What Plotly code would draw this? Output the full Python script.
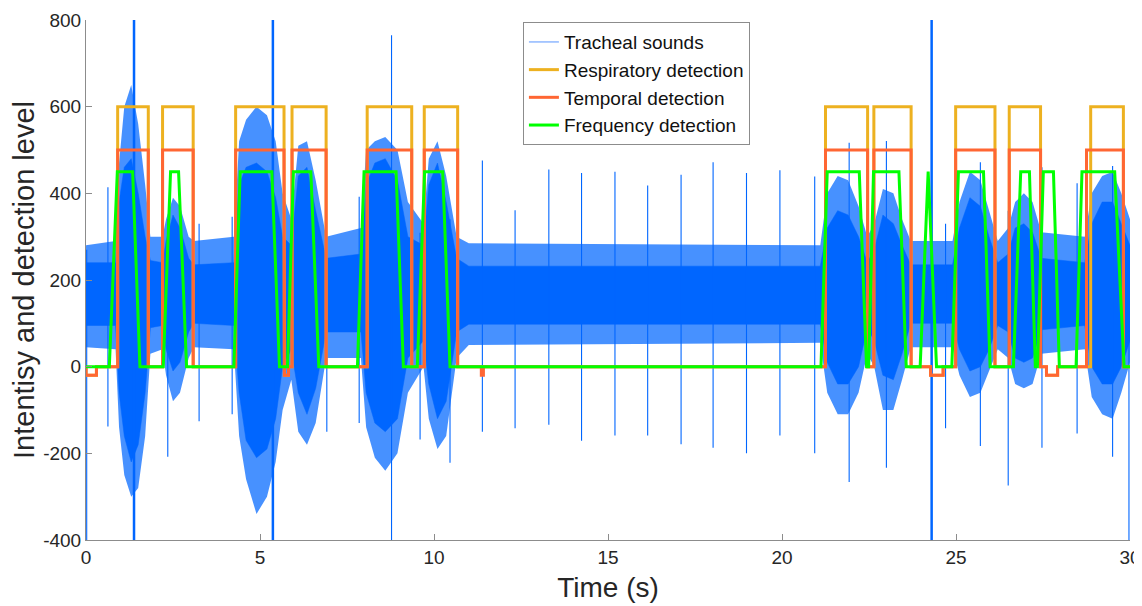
import plotly.graph_objects as go

# ---------------- data ----------------
# Tracheal sound envelope (time s, dense-core upper/lower, frayed outer upper/lower)
env_t = [0, 0.85, 0.95, 1.1, 1.3, 1.5, 1.7, 1.85, 2.2, 2.3, 2.5, 2.7, 2.95, 3.1,
         4.25, 4.4, 4.6, 4.9, 5.2, 5.45, 5.65, 5.9, 6.1, 6.35, 6.6, 6.9, 7.9, 8.05,
         8.3, 8.6, 8.95, 9.25, 9.7, 9.85, 10.1, 10.35, 10.65, 11.0, 21.1, 21.3, 21.6,
         21.9, 22.2, 22.45, 22.65, 22.9, 23.2, 23.45, 23.7, 24.9, 25.1, 25.4, 25.7,
         25.95, 26.2, 26.5, 26.7, 26.95, 27.2, 27.45, 28.7, 28.9, 29.2, 29.5, 29.75, 30]
core_hi = [240, 240, 380, 460, 480, 400, 300, 245, 240, 290, 350, 320, 250, 235,
           240, 420, 460, 470, 450, 390, 300, 280, 440, 460, 360, 250, 260, 420,
           470, 480, 430, 300, 280, 420, 470, 380, 250, 232, 232, 320, 360,
           350, 300, 240, 270, 350, 330, 280, 235, 235, 320, 390, 370,
           300, 240, 260, 320, 330, 310, 250, 240, 330, 380, 380, 330, 280]
core_lo = [95, 95, -60, -160, -220, -180, -60, 90, 95, 40, -10, 10, 80, 100,
           95, -60, -170, -210, -190, -120, 0, 40, -60, -110, -50, 80, 80, -60,
           -130, -150, -120, 20, 60, -40, -120, -80, 80, 98, 98, 10, -40,
           -40, 0, 90, 60, -20, -30, 30, 100, 100, 40, -10, 0,
           40, 95, 80, 20, 10, 20, 85, 95, 0, -40, -40, 0, 60]
outer_hi = [280, 290, 470, 600, 650, 560, 420, 300, 300, 340, 390, 370, 300, 290,
            300, 520, 570, 600, 580, 520, 400, 340, 510, 520, 430, 300, 320, 500,
            520, 530, 500, 380, 330, 480, 520, 440, 300, 285, 280, 400, 440,
            430, 370, 300, 330, 410, 400, 340, 290, 290, 380, 450, 430,
            360, 290, 320, 380, 400, 380, 310, 300, 400, 440, 450, 400, 340]
outer_lo = [45, 40, -140, -250, -300, -280, -160, 30, 40, -20, -80, -60, 20, 45,
            40, -160, -260, -340, -300, -220, -100, -30, -150, -180, -130, 20, 20, -140,
            -210, -240, -200, -60, 0, -120, -190, -160, 20, 50, 55, -60, -110,
            -110, -60, 30, 0, -100, -100, -30, 45, 45, -20, -70, -60,
            -10, 40, 20, -40, -50, -40, 30, 40, -70, -110, -120, -60, 10]

# Isolated spikes of the tracheal signal (time, top, bottom)
spike_t = [0.02, 0.63, 2.35, 3.25, 4.2, 6.92, 7.85, 8.78, 9.6, 10.46, 11.39, 12.33,
           13.30, 14.24, 15.20, 16.14, 17.10, 18.02, 18.98, 19.94, 20.94, 21.93,
           23.0, 24.7, 25.7, 26.5, 27.47, 28.48, 29.5, 29.97]
spike_top = [270, 414, 340, 330, 346, 300, 392, 765, 309, 340, 476, 361,
             455, 447, 450, 418, 443, 472, 447, 453, 439, 517,
             521, 330, 472, 360, 460, 423, 463, 280]
spike_bot = [-400, -138, -208, -126, -110, -150, -130, -400, -168, -222, -150, -142,
             -134, -171, -159, -159, -179, -187, -200, -159, -200, -266,
             -233, -142, -183, -274, -187, -154, -208, -400]

# Large artefacts crossing the whole range
big_t = [1.38, 5.37, 24.3]
big_top = [830, 830, 830]
big_bot = [-430, -430, -430]

# Detection intervals
resp_on = [(0.91, 1.79), (2.20, 3.08), (4.30, 5.69), (5.92, 6.90), (8.08, 9.36),
           (9.72, 10.68), (21.25, 22.46), (22.64, 23.71), (24.99, 26.12),
           (26.53, 27.43), (28.87, 29.81)]
resp_dips = [(0.0, 0.3), (5.70, 5.82), (24.27, 24.63), (27.6, 27.92)]
resp_level = 600
temp_on = [(0.91, 1.79), (2.20, 3.08), (4.30, 5.69), (5.92, 6.90), (8.08, 9.36),
           (9.72, 10.68), (21.25, 22.46), (22.64, 23.71), (24.99, 26.12),
           (26.53, 27.43), (28.75, 29.81)]
temp_dips = [(0.0, 0.3), (5.70, 5.82), (11.36, 11.42), (24.27, 24.63), (27.6, 27.92)]
temp_level = 500
dip_level = -20

freq_t = [0, 0.67, 0.9, 1.34, 1.55, 2.22, 2.43, 2.66, 2.89, 4.25, 4.43, 5.34, 5.56,
          5.79, 5.96, 6.46, 6.69, 7.80, 7.99, 8.91, 9.12, 9.52, 9.73, 10.25, 10.46,
          21.12, 21.30, 22.22, 22.43, 22.49, 22.63, 23.36, 23.57, 23.97, 24.20, 24.44,
          24.88, 25.07, 25.79, 25.98, 26.65, 26.86, 27.11, 27.28, 27.34, 27.51, 27.80,
          27.97, 28.45, 28.62, 29.56, 29.83, 30]
freq_y = [0, 0, 450, 450, 0, 0, 450, 450, 0, 0, 450, 450, 0,
          0, 450, 450, 0, 0, 450, 450, 0, 0, 450, 450, 0,
          0, 450, 450, 0, 0, 450, 450, 0, 0, 450, 0,
          0, 450, 450, 0, 0, 450, 450, 0, 0, 450, 450,
          0, 0, 450, 450, 0, 0]

x_ticks = [0, 5, 10, 15, 20, 25, 30]
y_ticks = [-400, -200, 0, 200, 400, 600, 800]


def step_series(on, dips, level, t_end=30.0):
    events = []
    for a, b in on:
        events.append((a, b, level))
    for a, b in dips:
        events.append((a, b, dip_level))
    events.sort()
    xs, ys = [], []
    cur = 0.0
    for a, b, lv in events:
        if a > cur or not xs:
            xs += [cur, a]
            ys += [0, 0]
        xs += [a, b]
        ys += [lv, lv]
        cur = b
    xs += [cur, t_end]
    ys += [0, 0]
    return xs, ys


def segs(ts, tops, bots):
    xs, ys = [], []
    for t, a, b in zip(ts, tops, bots):
        xs += [t, t, None]
        ys += [a, b, None]
    return xs, ys


BLUE = "#0066FF"
FONT = "Liberation Sans, Arial, sans-serif"
fig = go.Figure()

fig.add_trace(go.Scatter(x=env_t + env_t[::-1], y=outer_hi + outer_lo[::-1],
                         fill="toself", fillcolor="rgba(0,102,255,0.72)",
                         line=dict(width=0), mode="lines", showlegend=False,
                         hoverinfo="skip"))
fig.add_trace(go.Scatter(x=env_t + env_t[::-1], y=core_hi + core_lo[::-1],
                         fill="toself", fillcolor=BLUE,
                         line=dict(width=0.5, color=BLUE), mode="lines",
                         showlegend=False, hoverinfo="skip"))
sx, sy = segs(spike_t, spike_top, spike_bot)
fig.add_trace(go.Scatter(x=sx, y=sy, mode="lines", showlegend=False,
                         line=dict(color=BLUE, width=1.1)))
bx, by = segs(big_t, big_top, big_bot)
fig.add_trace(go.Scatter(x=bx, y=by, mode="lines", showlegend=False,
                         line=dict(color=BLUE, width=2.5)))
# legend entry for the signal (thin light line like the original)
fig.add_trace(go.Scatter(x=[None], y=[None], mode="lines", name="Tracheal sounds",
                         line=dict(color="#8fb8ff", width=1.5)))

rx, ry = step_series(resp_on, resp_dips, resp_level)
fig.add_trace(go.Scatter(x=rx, y=ry, mode="lines", name="Respiratory detection",
                         line=dict(color="#EDB120", width=3)))
tx, ty = step_series(temp_on, temp_dips, temp_level)
fig.add_trace(go.Scatter(x=tx, y=ty, mode="lines", name="Temporal detection",
                         line=dict(color="#FF6633", width=3)))
fig.add_trace(go.Scatter(x=freq_t, y=freq_y, mode="lines", name="Frequency detection",
                         line=dict(color="#00FF00", width=3)))

# the page body adds an 8px margin, so the figure is sized to the remaining area
fig.update_layout(
    width=1134, height=598,
    margin=dict(l=78, r=12, t=12, b=66),
    paper_bgcolor="white", plot_bgcolor="white",
    font=dict(family=FONT, size=19, color="#262626"),
    showlegend=True,
    legend=dict(x=0.4185, y=0.996, xanchor="left", yanchor="top",
                bgcolor="white", bordercolor="#8c8c8c", borderwidth=1,
                font=dict(family=FONT, size=19, color="#111111"),
                traceorder="normal", itemwidth=30),
    xaxis=dict(range=[0, 30], tickvals=x_ticks, ticktext=[str(v) for v in x_ticks],
               ticks="inside", ticklen=6,
               tickcolor="#8c8c8c", showline=True, linecolor="#8c8c8c", linewidth=1,
               showgrid=False, zeroline=False, mirror=False, automargin=False,
               tickfont=dict(size=19),
               title=dict(text="Time (s)", font=dict(size=28, color="#262626"),
                          standoff=10)),
    yaxis=dict(range=[-400, 800], tickvals=y_ticks, ticktext=[str(v) for v in y_ticks],
               ticks="inside", ticklen=6,
               tickcolor="#8c8c8c", showline=True, linecolor="#8c8c8c", linewidth=1,
               showgrid=False, zeroline=False, mirror=False, automargin=False,
               tickfont=dict(size=19),
               title=dict(text="Intentisy and detection level",
                          font=dict(size=29, color="#262626"), standoff=8)),
)

fig.write_html("out.html")
